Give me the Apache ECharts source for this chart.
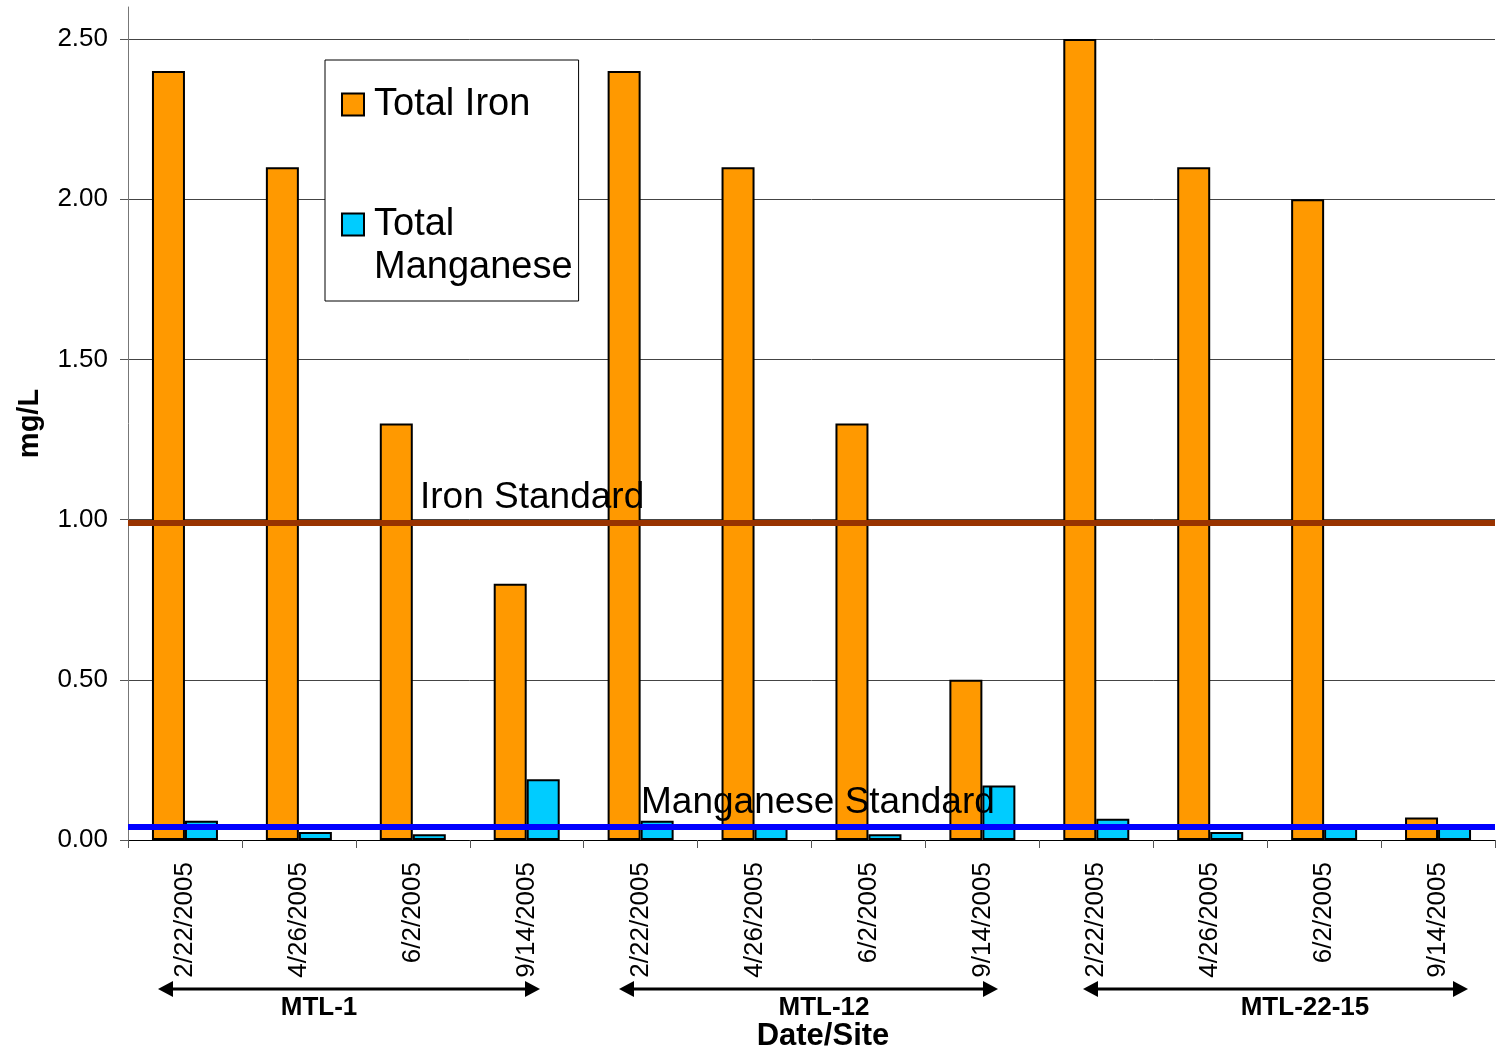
<!DOCTYPE html>
<html>
<head>
<meta charset="utf-8">
<script src="https://cdn.jsdelivr.net/npm/echarts@6/dist/echarts.min.js"></script>
<style>
  html, body { margin: 0; padding: 0; background: #fff; }
  #chart { width: 1506px; height: 1054px; }
</style>
</head>
<body>
<div id="chart"></div>
<script>
// Sampling dates, repeated for each monitoring site
const categories = [
  '2/22/2005', '4/26/2005', '6/2/2005', '9/14/2005',
  '2/22/2005', '4/26/2005', '6/2/2005', '9/14/2005',
  '2/22/2005', '4/26/2005', '6/2/2005', '9/14/2005'
];
const sites = ['MTL-1', 'MTL-12', 'MTL-22-15'];

// Concentrations, mg/L
const totalIron = [2.4, 2.1, 1.3, 0.8, 2.4, 2.1, 1.3, 0.5, 2.5, 2.1, 2.0, 0.07];
const totalManganese = [0.06, 0.025, 0.018, 0.19, 0.06, 0.05, 0.018, 0.17, 0.066, 0.025, 0.04, 0.04];

// Reference standards, mg/L
const ironStandard = 0.99;
const manganeseStandard = 0.037;

const FONT = '"Liberation Sans", Arial, Helvetica, sans-serif';

const chart = echarts.init(document.getElementById('chart'), null, { renderer: 'canvas' });

// Double-headed arrow with a site label underneath
function siteArrow(x1, x2, y, label, labelX) {
  const head = 15, half = 8;
  return [
    { type: 'line', shape: { x1: x1 + head - 2, y1: y, x2: x2 - head + 2, y2: y },
      style: { stroke: '#000', lineWidth: 3 }, z: 10 },
    { type: 'polygon', shape: { points: [[x1, y], [x1 + head, y - half], [x1 + head, y + half]] },
      style: { fill: '#000' }, z: 10 },
    { type: 'polygon', shape: { points: [[x2, y], [x2 - head, y - half], [x2 - head, y + half]] },
      style: { fill: '#000' }, z: 10 },
    { type: 'text', x: labelX, y: y + 19,
      style: { text: label, font: 'bold 26px ' + FONT, fill: '#000', align: 'center', verticalAlign: 'middle' }, z: 10 }
  ];
}

const option = {
  backgroundColor: '#fff',
  animation: false,
  textStyle: { fontFamily: FONT },
  grid: { left: 128, right: 11, top: 7, bottom: 214, containLabel: false },
  legend: {
    data: ['Total Iron', 'Total Manganese'],
    orient: 'vertical',
    left: 325,
    top: 60,
    icon: 'rect',
    itemWidth: 22,
    itemHeight: 22,
    itemGap: 34,
    padding: [23, 6, 12, 16],
    backgroundColor: '#fff',
    borderColor: '#000',
    borderWidth: 1,
    borderRadius: 0,
    selectedMode: false,
    formatter: function (name) {
      return name === 'Total Manganese' ? '\n{t|Total}\n{t|Manganese}' : '{t|Total Iron}';
    },
    textStyle: {
      fontSize: 38,
      lineHeight: 43,
      color: '#000',
      fontFamily: FONT,
      rich: { t: { fontSize: 38, lineHeight: 43, color: '#000', fontFamily: FONT, padding: [0, 0, 0, 5] } }
    }
  },
  xAxis: {
    type: 'category',
    data: categories,
    boundaryGap: true,
    axisLine: { lineStyle: { color: '#000', width: 1 } },
    axisTick: { show: true, length: 8, lineStyle: { color: '#555' } },
    axisLabel: { interval: 0, rotate: 90, fontSize: 26, color: '#000', margin: 22, fontFamily: FONT },
    splitLine: { show: false }
  },
  yAxis: {
    type: 'value',
    min: 0,
    max: 2.6,
    interval: 0.5,
    name: 'mg/L',
    nameLocation: 'middle',
    nameGap: 84,
    nameTextStyle: { fontSize: 29, fontWeight: 'bold', color: '#000', fontFamily: FONT },
    axisLine: { show: true, lineStyle: { color: '#777', width: 1 } },
    axisTick: { show: true, length: 8, lineStyle: { color: '#555' } },
    axisLabel: {
      fontSize: 26, color: '#000', margin: 20, fontFamily: FONT, showMaxLabel: false,
      formatter: function (v) { return v.toFixed(2); }
    },
    splitLine: { show: true, showMaxLine: false, lineStyle: { color: '#444', width: 1 } }
  },
  series: [
    {
      name: 'Total Iron',
      type: 'bar',
      data: totalIron,
      barWidth: 33,
      barGap: '0%',
      itemStyle: { color: '#FF9900', borderColor: '#000', borderWidth: 2 },
      z: 2
    },
    {
      name: 'Total Manganese',
      type: 'bar',
      data: totalManganese,
      barWidth: 33,
      barGap: '0%',
      itemStyle: { color: '#00CCFF', borderColor: '#000', borderWidth: 2 },
      z: 2
    },
    {
      name: 'Standards',
      type: 'line',
      data: [],
      z: 5,
      silent: true,
      markLine: {
        silent: true,
        symbol: ['none', 'none'],
        label: { show: false },
        data: [
          { yAxis: ironStandard, lineStyle: { color: '#993300', width: 6, type: 'solid' } },
          { yAxis: manganeseStandard, lineStyle: { color: '#0000FF', width: 6, type: 'solid' } }
        ]
      }
    }
  ],
  graphic: [
    { type: 'text', x: 420, y: 498, z: 10,
      style: { text: 'Iron Standard', font: '37px ' + FONT, fill: '#000', verticalAlign: 'middle' } },
    { type: 'text', x: 641, y: 803, z: 10,
      style: { text: 'Manganese Standard', font: '37px ' + FONT, fill: '#000', verticalAlign: 'middle' } },
    ...siteArrow(158, 540, 989, sites[0], 319),
    ...siteArrow(619, 998, 989, sites[1], 824),
    ...siteArrow(1083, 1468, 989, sites[2], 1305),
    { type: 'text', x: 823, y: 1036, z: 10,
      style: { text: 'Date/Site', font: 'bold 31px ' + FONT, fill: '#000', align: 'center', verticalAlign: 'middle' } }
  ]
};

chart.setOption(option);
</script>
</body>
</html>
